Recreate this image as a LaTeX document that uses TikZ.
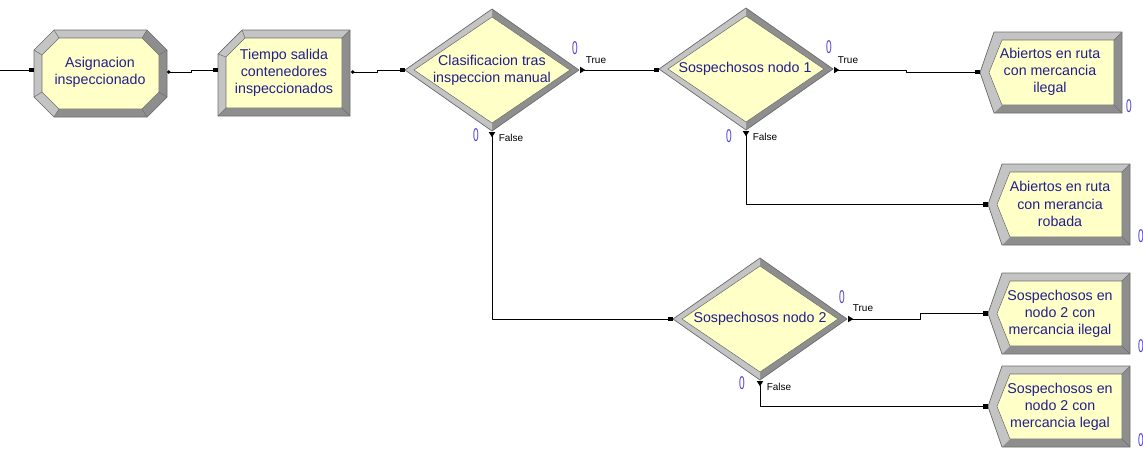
\documentclass[tikz,border=0pt]{standalone}
\usepackage{fontspec}
\setmainfont{Liberation Sans}
\usepackage{xcolor}
\usetikzlibrary{arrows.meta}
\definecolor{modfill}{RGB}{255,255,200}
\definecolor{bevlight}{RGB}{196,196,196}
\definecolor{bevdark}{RGB}{142,142,142}
\definecolor{bevline}{RGB}{110,110,110}
\definecolor{modtext}{RGB}{34,30,140}
\definecolor{cntblue}{RGB}{80,64,210}

\begin{document}
\begin{tikzpicture}[x=0.02cm,y=-0.02cm,line join=round,
  modlabel/.style={align=center,text=modtext,font=\fontsize{8.1}{9.8}\selectfont,inner sep=0pt},
  cnt/.style={text=cntblue,font=\fontsize{10.5}{10.5}\selectfont,inner sep=0pt},
  branch/.style={font=\fontsize{5.7}{6}\selectfont,inner sep=0pt},
  flow/.style={line width=0.55pt,-{Square[length=2.6pt,width=2.6pt]}},
  decout/.style={flow,{Triangle[reversed,length=3pt,width=3.6pt]}-{Square[length=2.6pt,width=2.6pt]}},
  modout/.style={flow,{Circle[length=2pt]}-{Square[length=2.6pt,width=2.6pt]}}]
  \useasboundingbox (0,0) rectangle (1143,450);

  % assign module (octagon)
  \fill[bevdark] (54,30)--(147,30)--(167,50)--(167,97)--(147,117)--(54,117)--(34,97)--(34,50)--cycle;
  \fill[bevlight] (54,117)--(34,97)--(34,50)--(54,30)--(147,30)--(142,38)--(59,38)--(42,55)--(42,92)--(59,109)--cycle;
  \filldraw[fill=modfill,draw=bevline,line width=0.3pt] (59,38)--(142,38)--(159,55)--(159,92)--(142,109)--(59,109)--(42,92)--(42,55)--cycle;
  \draw[bevline,line width=0.4pt] (54,30)--(147,30)--(167,50)--(167,97)--(147,117)--(54,117)--(34,97)--(34,50)--cycle;
  \foreach \ox/\oy/\ix/\iy in {54/30/59/38,147/30/142/38,167/50/159/55,167/97/159/92,147/117/142/109,54/117/59/109,34/97/42/92,34/50/42/55}
    \draw[bevline,line width=0.3pt] (\ox,\oy)--(\ix,\iy);

  % process module
  \fill[bevdark] (242,30)--(350,30)--(350,116)--(218,116)--(218,54)--cycle;
  \fill[bevlight] (218,116)--(218,54)--(242,30)--(350,30)--(342,38)--(245,38)--(226,57)--(226,108)--cycle;
  \filldraw[fill=modfill,draw=bevline,line width=0.3pt] (245,38)--(342,38)--(342,108)--(226,108)--(226,57)--cycle;
  \draw[bevline,line width=0.4pt] (242,30)--(350,30)--(350,116)--(218,116)--(218,54)--cycle;
  \foreach \ox/\oy/\ix/\iy in {242/30/245/38,350/30/342/38,350/116/342/108,218/116/226/108,218/54/226/57}
    \draw[bevline,line width=0.3pt] (\ox,\oy)--(\ix,\iy);

  % decide modules
  \foreach \cx/\cy in {492/70,746/69,760/319}{
    \fill[bevdark] (\cx-87,\cy)--(\cx,\cy-61)--(\cx+87,\cy)--(\cx,\cy+61)--cycle;
    \fill[bevlight] (\cx,\cy-61)--(\cx-87,\cy)--(\cx,\cy+61)--(\cx,\cy+53)--(\cx-78,\cy)--(\cx,\cy-53)--cycle;
    \filldraw[fill=modfill,draw=bevline,line width=0.3pt] (\cx-78,\cy)--(\cx,\cy-53)--(\cx+78,\cy)--(\cx,\cy+53)--cycle;
    \draw[bevline,line width=0.4pt] (\cx-87,\cy)--(\cx,\cy-61)--(\cx+87,\cy)--(\cx,\cy+61)--cycle;
  }

  % dispose modules
  \foreach \xl/\yt in {980/32,988/164,988/273,988/366}{
    \fill[bevdark] (\xl+14,\yt)--(\xl+142,\yt)--(\xl+142,\yt+81)--(\xl+14,\yt+81)--(\xl,\yt+40.5)--cycle;
    \fill[bevlight] (\xl+142,\yt)--(\xl+14,\yt)--(\xl,\yt+40.5)--(\xl+14,\yt+81)--(\xl+22,\yt+73)--(\xl+9,\yt+40.5)--(\xl+22,\yt+8)--(\xl+134,\yt+8)--cycle;
    \filldraw[fill=modfill,draw=bevline,line width=0.3pt] (\xl+22,\yt+8)--(\xl+134,\yt+8)--(\xl+134,\yt+73)--(\xl+22,\yt+73)--(\xl+9,\yt+40.5)--cycle;
    \draw[bevline,line width=0.4pt] (\xl+14,\yt)--(\xl+142,\yt)--(\xl+142,\yt+81)--(\xl+14,\yt+81)--(\xl,\yt+40.5)--cycle;
    \draw[bevline,line width=0.3pt] (\xl+142,\yt+81)--(\xl+134,\yt+73) (\xl+142,\yt)--(\xl+134,\yt+8);
  }

  % labels
  \node[modlabel] (asg) at (100,72) {Asignacion\\inspeccionado};
  \node[modlabel] (prc) at (284,73) {Tiempo salida\\contenedores\\inspeccionados};
  \node[modlabel] (clas) at (492,70) {Clasificacion tras\\inspeccion manual};
  \node[modlabel] (nodo1) at (745,69) {Sospechosos nodo 1};
  \node[modlabel] (nodo2) at (760,319) {Sospechosos nodo 2};
  \node[modlabel] (d1) at (1050,72) {Abiertos en ruta\\con mercancia\\ilegal};
  \node[modlabel] (d2) at (1060,204) {Abiertos en ruta\\con merancia\\robada};
  \node[modlabel] (d3) at (1060,314) {Sospechosos en\\nodo 2 con\\mercancia ilegal};
  \node[modlabel] (d4) at (1060,407) {Sospechosos en\\nodo 2 con\\mercancia legal};

  % entry and exit points
  \coordinate (src) at (0,70);
  \coordinate (asg-in) at (34,70);
  \coordinate (asg-out) at (167,72);
  \coordinate (prc-in) at (218,70);
  \coordinate (prc-out) at (351,72);
  \coordinate (clas-in) at (405,70);
  \coordinate (clas-true) at (580,70);
  \coordinate (clas-false) at (492,132);
  \coordinate (nodo1-in) at (659,70);
  \coordinate (nodo1-true) at (834,70);
  \coordinate (nodo1-false) at (746,131);
  \coordinate (nodo2-in) at (673,319);
  \coordinate (nodo2-true) at (848,319);
  \coordinate (nodo2-false) at (760,381);
  \coordinate (d1-in) at (980,72);
  \coordinate (d2-in) at (988,204.5);
  \coordinate (d3-in) at (988,313.5);
  \coordinate (d4-in) at (988,406.5);

  % connectors
  \draw[flow] (src) -- (asg-in);
  \draw[modout] (asg-out) -- ++(24,0) |- (prc-in);
  \draw[modout] (prc-out) -- ++(26,0) |- (clas-in);
  \draw[decout] (clas-true) -- (nodo1-in);
  \draw[decout] (clas-false) |- (nodo2-in);
  \draw[decout] (nodo1-true) -- ++(72,0) |- (d1-in);
  \draw[decout] (nodo1-false) |- (d2-in);
  \draw[decout] (nodo2-true) -- ++(72,0) |- (d3-in);
  \draw[decout] (nodo2-false) |- (d4-in);

  % branch names and counters
  \node[branch] (t1) at (596,60) {True};
  \node[branch] (f1) at (511,138) {False};
  \node[branch] (t2) at (848,60) {True};
  \node[branch] (f2) at (765,137) {False};
  \node[branch] (t3) at (863,308) {True};
  \node[branch] (f3) at (779,387) {False};
  \node[cnt] (c1) at (575,48) {\scalebox{0.55}[1]{0}};
  \node[cnt] (c2) at (476,135) {\scalebox{0.55}[1]{0}};
  \node[cnt] (c3) at (829,47) {\scalebox{0.55}[1]{0}};
  \node[cnt] (c4) at (729,136) {\scalebox{0.55}[1]{0}};
  \node[cnt] (c5) at (842,297) {\scalebox{0.55}[1]{0}};
  \node[cnt] (c6) at (742,383) {\scalebox{0.55}[1]{0}};
  \node[cnt] (c7) at (1129,106) {\scalebox{0.55}[1]{0}};
  \node[cnt] (c8) at (1141,236) {\scalebox{0.55}[1]{0}};
  \node[cnt] (c9) at (1141,346) {\scalebox{0.55}[1]{0}};
  \node[cnt] (c10) at (1141,440) {\scalebox{0.55}[1]{0}};
\end{tikzpicture}
\end{document}
